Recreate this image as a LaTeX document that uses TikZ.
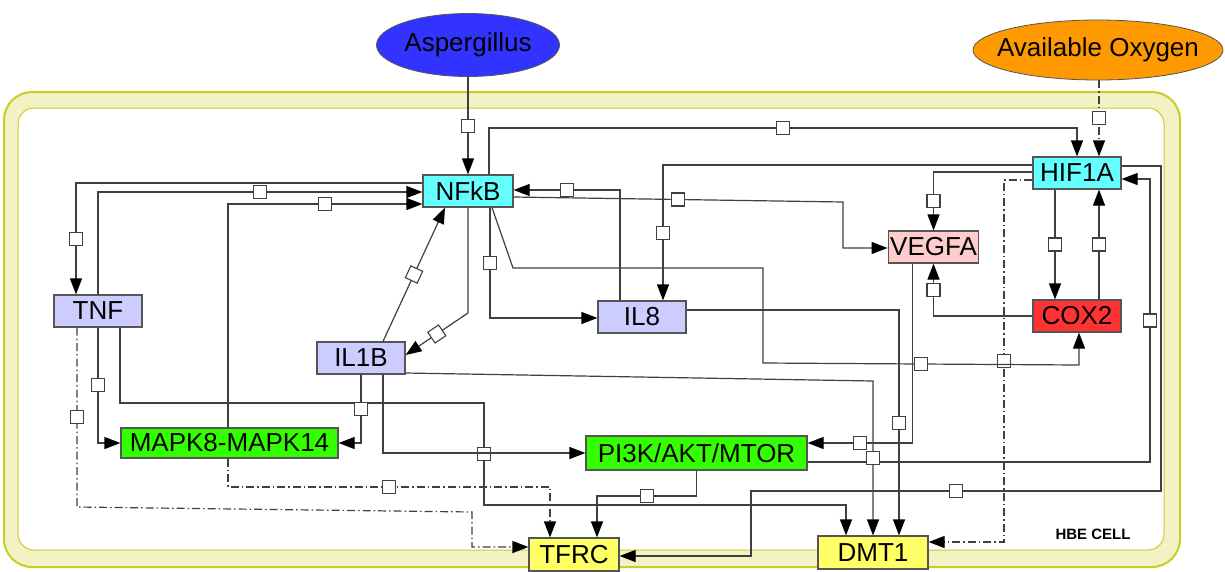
\documentclass[tikz,border=0pt]{standalone}
\usepackage{fontspec}
\setmainfont{Liberation Sans}
\usetikzlibrary{arrows.meta, positioning, shapes.geometric}
\definecolor{hbline}{RGB}{64,64,64}
\definecolor{hbedge}{RGB}{85,85,85}
\definecolor{hbcyan}{RGB}{102,255,255}
\definecolor{hblav}{RGB}{204,204,255}
\definecolor{hbpink}{RGB}{255,204,204}
\definecolor{hbred}{RGB}{255,51,51}
\definecolor{hbgreen}{RGB}{51,255,0}
\definecolor{hbyellow}{RGB}{255,255,102}
\definecolor{hbblue}{RGB}{51,51,255}
\definecolor{hborange}{RGB}{255,153,0}
\definecolor{hbband}{RGB}{242,242,196}
\definecolor{hbbandline}{RGB}{204,204,40}
\tikzset{
    gene/.style={draw=hbedge, line width=1.2pt, minimum width=88pt, minimum height=32pt,
                 inner sep=2pt, font=\fontsize{26}{30}\selectfont},
    cyangene/.style={gene, fill=hbcyan},
    lavgene/.style={gene, fill=hblav},
    pinkgene/.style={gene, fill=hbpink},
    redgene/.style={gene, fill=hbred},
    greengene/.style={gene, fill=hbgreen, minimum height=31pt},
    irongene/.style={gene, fill=hbyellow, minimum height=33pt},
    stimulus/.style={ellipse, draw=hbedge, line width=0.8pt, inner sep=0pt,
                     font=\fontsize{26}{30}\selectfont},
    arrow/.style={-{Triangle[length=16pt, width=12pt, color=black]}, draw=hbline, line width=1.2pt},
    dasharrow/.style={arrow, dash pattern=on 8pt off 3pt on 1.5pt off 3pt},
    sq/.style={draw=hbline, fill=white, solid, line width=1.1pt, minimum size=13pt, inner sep=0pt},
}

\begin{document}
\begin{tikzpicture}[x=1pt, y=-1pt]
    \useasboundingbox (0,0) rectangle (1225,571);
    \draw[hbbandline, line width=2pt, fill=hbband, rounded corners=28pt] (4,92) rectangle (1180,567);
    \draw[hbbandline, line width=1pt, fill=white, rounded corners=16pt] (18,108) rectangle (1164,550);
    \node[font=\fontsize{15}{18}\selectfont\bfseries] (cell) at (1093,534) {HBE CELL};

    \node[stimulus, fill=hbblue, minimum width=183pt, minimum height=63pt] (asp) at (468,45) {Aspergillus};
    \node[stimulus, fill=hborange, inner xsep=-20pt, minimum width=250pt, minimum height=60pt] (oxy) at (1098,50) {Available Oxygen};

    \node[cyangene, minimum width=90pt] (nfkb) at (468,191) {NFkB};
    \node[cyangene] (hif) at (1077,173) {HIF1A};
    \node[pinkgene, minimum width=89pt] (vegfa) at (933.5,247) {VEGFA};
    \node[redgene] (cox) at (1077,316) {COX2};
    \node[lavgene] (tnf) at (98,311) {TNF};
    \node[lavgene] (il8) at (642,317) {IL8};
    \node[lavgene] (il1b) at (361,358) {IL1B};
    \node[greengene, minimum width=217pt, minimum height=30pt] (mapk) at (229.5,443) {MAPK8-MAPK14};
    \node[greengene, minimum width=221pt, minimum height=34pt] (pi3k) at (696.5,453) {PI3K/AKT/MTOR};
    \node[irongene, minimum width=90pt] (tfrc) at (574,554.5) {TFRC};
    \node[irongene, minimum width=110pt] (dmt1) at (873,552.5) {DMT1};

    \draw[arrow] (asp.south) -- node[sq] (r1) {} (nfkb.north);
    \draw[dasharrow] ([xshift=1pt]oxy.south) -- node[sq] (r2) {} ([xshift=22pt]hif.north);
    \draw[arrow] ([xshift=21pt]nfkb.north) -- (489,128) -| node[sq, pos=0.25] (r3) {} (hif.north);
    \draw[arrow] ([yshift=8pt]hif.west) -| node[sq, pos=0.75] (r4) {} ([xshift=21pt]il8.north);
    \draw[arrow] ([yshift=1pt]hif.west) -| node[sq, pos=0.75] (r5) {} (vegfa.north);
    \draw[dasharrow] ([yshift=-7pt]hif.west) -| node[sq, pos=0.75] (r6) {} (1004,542) -- ([yshift=10.5pt]dmt1.east);
    \draw[arrow] ([xshift=-22pt]hif.south) -- node[sq] (r7) {} ([xshift=-22pt]cox.north);
    \draw[arrow] ([xshift=22pt]cox.north) -- node[sq] (r8) {} ([xshift=22pt]hif.south);
    \draw[arrow] (cox.west) -| node[sq, pos=0.75] (r9) {} (vegfa.south);
    \draw[arrow] ([yshift=7pt]hif.east) -- (1161,166) -- (1161,491) -- node[sq] (r10) {} (751,491) -- (751,556) -- ([yshift=-1.5pt]tfrc.east);
    \draw[arrow] ([yshift=-9pt]pi3k.east) -- (1150,462) -- node[sq] (r11) {} (1150,179) -- ([yshift=-6pt]hif.east);
    \draw[arrow] ([xshift=-21pt]vegfa.south) |- node[sq, pos=0.75] (r12) {} ([yshift=10pt]pi3k.east);
    \draw[arrow] ([yshift=7pt]il8.east) -| node[sq, pos=0.75] (r13) {} ([xshift=26pt]dmt1.north);
    \draw[arrow] ([yshift=-15pt]il1b.east) -- (873,381) -- node[sq] (r14) {} (dmt1.north);
    \draw[arrow] ([xshift=24pt]nfkb.south) -- (513,268) -- (763,268) -- (763,363) -- node[sq] (r15) {} (1079,365) -- ([xshift=2pt]cox.south);
    \draw[arrow] ([xshift=22pt]tnf.south) |- (484,403) -- node[sq] (r16) {} (484,505) -- (846,505) -- ([xshift=-27pt]dmt1.north);
    \draw[arrow] ([xshift=22pt]il1b.south) |- (pi3k.west);
    \draw[arrow] (il1b.south) |- node[sq, pos=0.25] (r18) {} (mapk.east);
    \draw[arrow] (tnf.south) |- node[sq, pos=0.25] (r19) {} (mapk.west);
    \draw[dasharrow] ([xshift=-21pt]tnf.south) -- node[sq] (r20) {} (77,507) -- (472,512) -- (472,547) -- ([yshift=7.5pt]tfrc.west);
    \draw[dasharrow] ([xshift=-1.5pt]mapk.south) -- (228,487) -- node[sq] (r21) {} (550,487) -- ([xshift=-24pt]tfrc.north);
    \draw[arrow] ([xshift=-1.5pt]mapk.north) |- node[sq, pos=0.75] (r22) {} ([yshift=-13pt]nfkb.west);
    \draw[arrow] ([yshift=8pt]nfkb.west) -| node[sq, pos=0.75] (r23) {} ([xshift=-22pt]tnf.north);
    \draw[arrow] (tnf.north) |- node[sq, pos=0.75] (r24) {} ([yshift=-1pt]nfkb.west);
    \draw[arrow] ([xshift=22pt]il1b.north) -- node[sq, sloped] (r25) {} ([xshift=-23pt]nfkb.south);
    \draw[arrow] (nfkb.south) -- (468,313) -- node[sq, sloped] (r26) {} ([yshift=3pt]il1b.east);
    \draw[arrow] ([xshift=22pt]nfkb.south) |- node[sq, pos=0.25] (r27) {} ([yshift=-1pt]il8.west);
    \draw[arrow] ([xshift=-22pt]il8.north) |- node[sq, pos=0.75] (r28) {} ([yshift=1pt]nfkb.east);
    \draw[arrow] ([yshift=-6pt]nfkb.east) -- node[sq] (r29) {} (843,202) -- (843,248) -- ([yshift=-1pt]vegfa.west);
    \draw[arrow] (pi3k.south) -- (696.5,496) -- node[sq] (r30) {} (597,496) -- ([xshift=23pt]tfrc.north);
\end{tikzpicture}
\end{document}
